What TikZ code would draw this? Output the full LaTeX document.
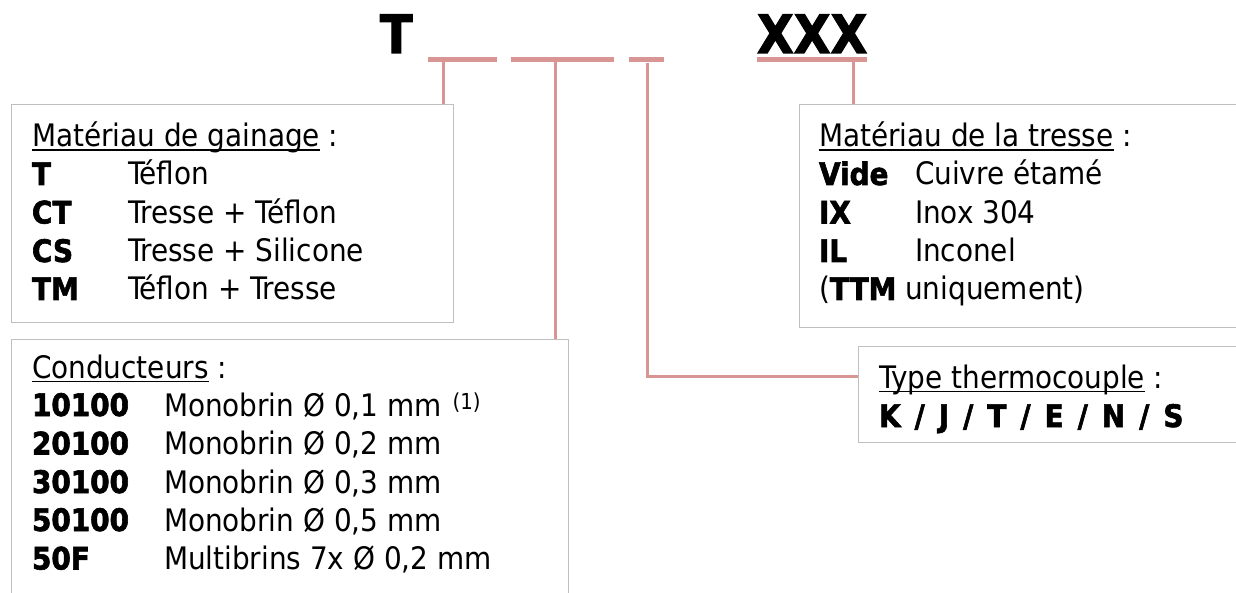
\documentclass[tikz,border=0pt]{standalone}
\usepackage{fontspec}
\setmainfont{DejaVu Sans Condensed}[BoldFeatures={FakeBold=2}]
\definecolor{pinkline}{RGB}{217,149,148}
\definecolor{boxgray}{RGB}{191,191,191}
\newcommand\hdline[1]{\setbox0\hbox{#1}\rlap{\rule[-4pt]{\wd0}{1.5pt}}\box0}
\newcommand\gapp{\hspace{14pt}}
\begin{document}
\begin{tikzpicture}[x=1pt,y=-1pt,
  txt/.style={anchor=base west, inner sep=0pt, outer sep=0pt, font=\fontsize{31}{31}\selectfont},
  codetxt/.style={txt, font=\fontsize{31}{31}\selectfont\bfseries},
  titletxt/.style={anchor=base west, inner sep=0pt, outer sep=0pt, font=\fontsize{53}{53}\selectfont\bfseries},
  codebar/.style={draw=pinkline, line width=5pt},
  conn/.style={draw=pinkline, line width=3pt},
  panel/.style={draw=boxgray, line width=1.2pt, fill=white, anchor=north west, inner sep=0pt}]
\useasboundingbox (0,0) rectangle (1236,593);

% title
\node[titletxt] (tT) at (380,53) {T};
\node[titletxt] (tX) at (757,53) {XXX};

% code bars
\coordinate (d1a) at (428,59.5); \coordinate (d1b) at (497,59.5);
\coordinate (d2a) at (511,59.5); \coordinate (d2b) at (614,59.5);
\coordinate (d3a) at (629,59.5); \coordinate (d3b) at (664,59.5);
\coordinate (d4a) at (757,59.5); \coordinate (d4b) at (867,59.5);
\draw[codebar] (d1a) -- (d1b);
\draw[codebar] (d2a) -- (d2b);
\draw[codebar] (d3a) -- (d3b);
\draw[codebar] (d4a) -- (d4b);

% boxes
\node[panel, minimum width=442pt, minimum height=218pt] (b1) at (11,104) {};
\node[panel, minimum width=557pt, minimum height=265pt] (b2) at (11,339) {};
\node[panel, minimum width=445pt, minimum height=223pt] (b3) at (799,104) {};
\node[panel, minimum width=385pt, minimum height=96pt] (b5) at (858,346) {};

% connectors
\coordinate (c1) at (443,62);
\coordinate (c2) at (555,62);
\coordinate (c3) at (647,63);
\coordinate (k3) at (647,376);
\coordinate (c4) at (853,62);
\draw[conn] (c1) -- (c1 |- b1.north);
\draw[conn] (c2) -- (c2 |- b2.north);
\draw[conn] (c3) -- (k3) -- (k3 -| b5.west);
\draw[conn] (c4) -- (c4 |- b3.north);

% box 1
\node[txt] (h1) at (32,147) {\hdline{Matériau de gainage}\ :};
\node[codetxt] (a1) at (32,185) {T};
\node[txt] (a1d) at (128,185) {Téflon};
\node[codetxt] (a2) at (32,223.5) {CT};
\node[txt] (a2d) at (128,223.5) {Tresse + Téflon};
\node[codetxt] (a3) at (32,262) {CS};
\node[txt] (a3d) at (128,262) {Tresse + Silicone};
\node[codetxt] (a4) at (32,300) {TM};
\node[txt] (a4d) at (128,300) {Téflon + Tresse};

% box 2
\node[txt] (h2) at (32,378) {\hdline{Conducteurs}\ :};
\node[codetxt] (e1) at (32,416) {10100};
\node[txt] (e1d) at (164,416) {Monobrin Ø 0,1 mm\hspace{11pt}\raisebox{7pt}{\fontsize{22}{22}\selectfont (1)}};
\node[codetxt] (e2) at (32,454.5) {20100};
\node[txt] (e2d) at (164,454.5) {Monobrin Ø 0,2 mm};
\node[codetxt] (e3) at (32,493) {30100};
\node[txt] (e3d) at (164,493) {Monobrin Ø 0,3 mm};
\node[codetxt] (e4) at (32,531) {50100};
\node[txt] (e4d) at (164,531) {Monobrin Ø 0,5 mm};
\node[codetxt] (e5) at (32,569.5) {50F};
\node[txt] (e5d) at (164,569.5) {Multibrins 7x Ø 0,2 mm};

% box 3
\node[txt] (h3) at (819,147) {\hdline{Matériau de la tresse}\ :};
\node[codetxt] (m1) at (819,185) {Vide};
\node[txt] (m1d) at (915,185) {Cuivre étamé};
\node[codetxt] (m2) at (819,223.5) {IX};
\node[txt] (m2d) at (915,223.5) {Inox 304};
\node[codetxt] (m3) at (819,262) {IL};
\node[txt] (m3d) at (915,262) {Inconel};
\node[txt] (m4) at (819,300) {(\textbf{TTM} uniquement)};

% box 5
\node[txt] (h5) at (879,388) {\hdline{Type thermocouple}\ :};
\node[codetxt] (t1) at (879,427) {K\gapp/\gapp J\gapp/\gapp T\gapp/\gapp E\gapp/\gapp N\gapp/\gapp S};
\end{tikzpicture}
\end{document}
